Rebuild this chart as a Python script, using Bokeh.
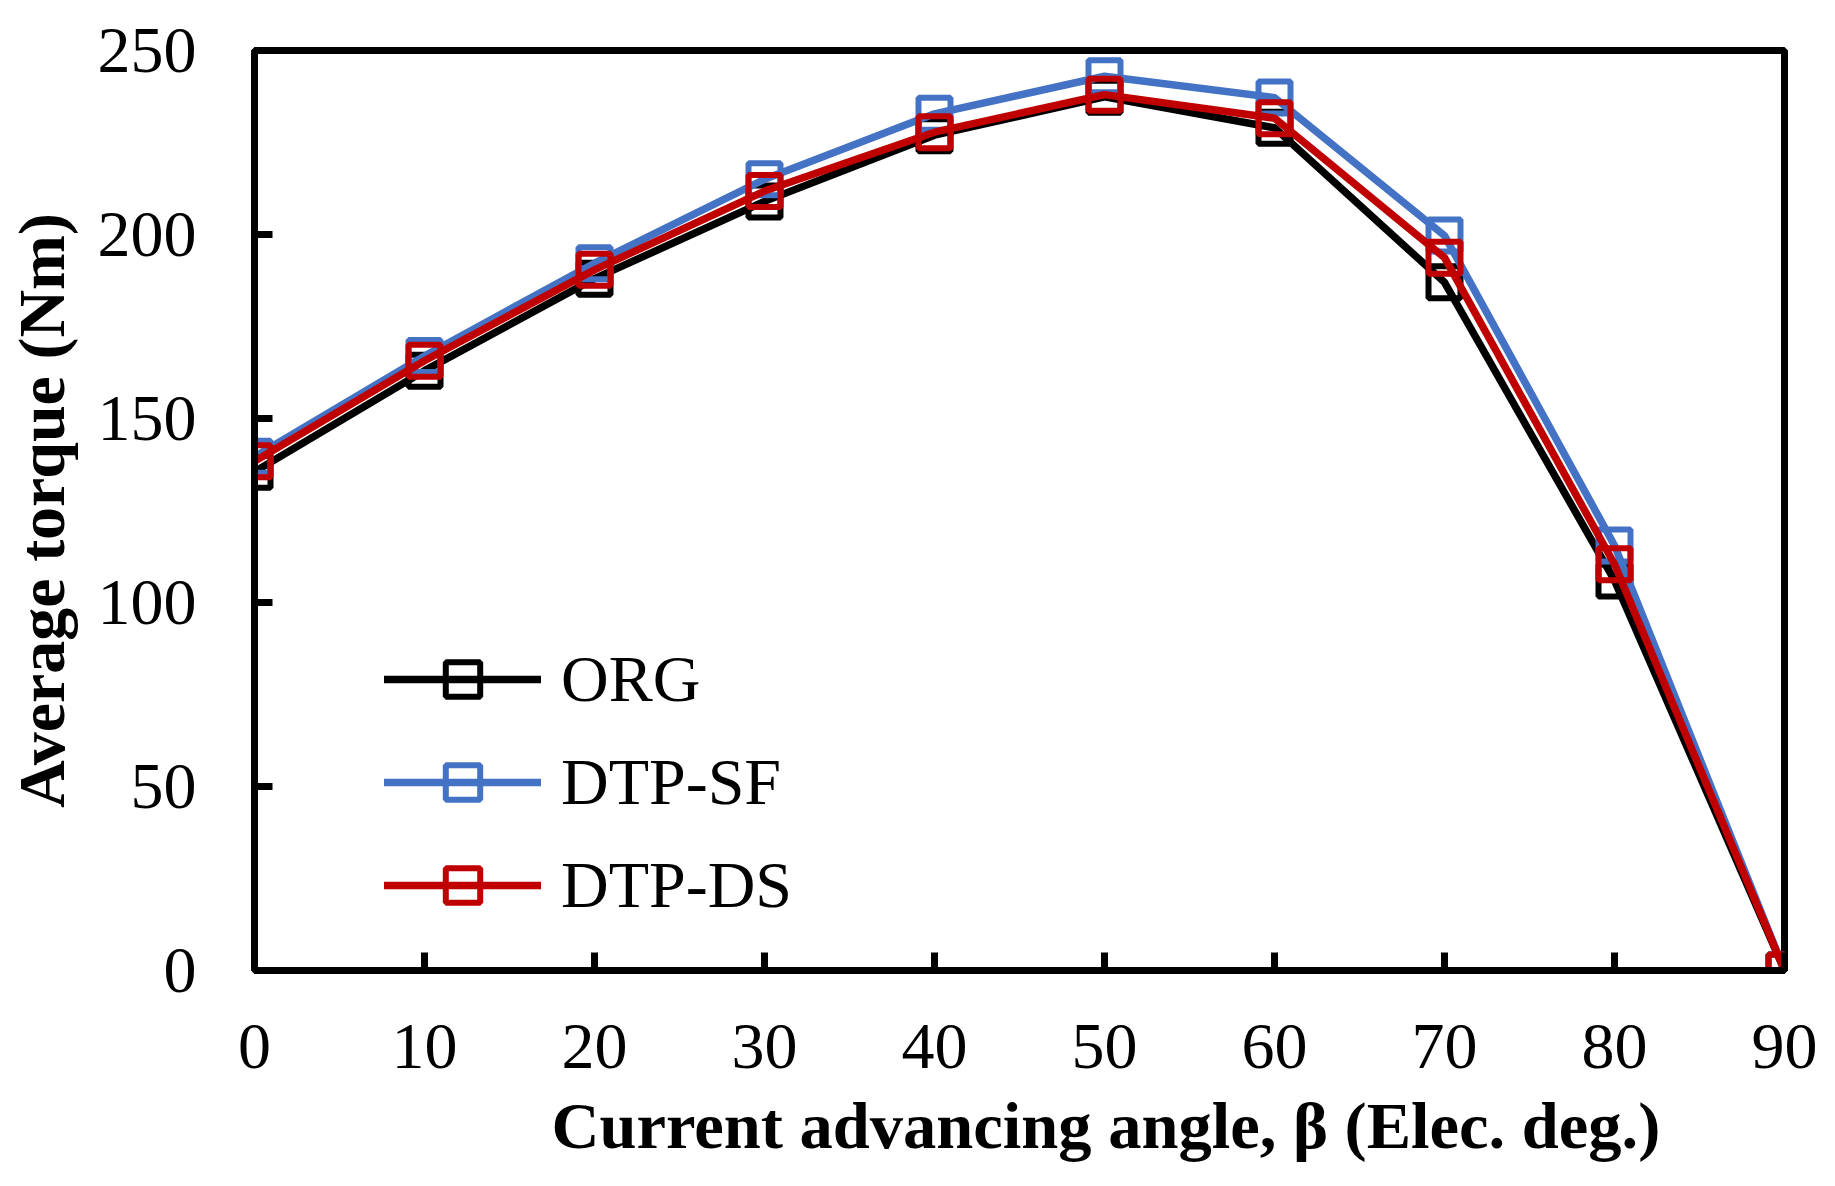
from bokeh.plotting import figure
from bokeh.models import Range1d, FixedTicker, Legend, LegendItem, Title
from bokeh.embed import file_html
from bokeh.resources import INLINE

# ---------------- data ----------------
angles = [0, 10, 20, 30, 40, 50, 60, 70, 80, 90]
org = [135.5, 163.0, 188.0, 209.0, 227.0, 237.4, 229.0, 187.0, 106.0, 0.0]
dtp_sf = [139.6, 167.0, 192.2, 215.0, 232.8, 243.0, 237.2, 199.7, 115.5, 0.0]
dtp_ds = [138.4, 165.7, 190.4, 211.8, 227.8, 238.0, 231.6, 193.7, 110.4, 0.0]
series_names = ["ORG", "DTP-SF", "DTP-DS"]
series_colors = ["#000000", "#4472C4", "#C00000"]
x_ticks = [0, 10, 20, 30, 40, 50, 60, 70, 80, 90]
y_ticks = [0, 50, 100, 150, 200, 250]
x_title = "Current advancing angle, \u03b2 (Elec. deg.)"
y_title = "Average torque (Nm)"

# ---------------- layout ----------------
W, H = 1835, 1186
MB_L, MB_R, MB_T, MB_B = 254, 51, 50, 216
X0, X1 = 0, 90
Y0, Y1 = 0, 250

SERIF = "Liberation Serif"
MSIZE = 32
MLW = 6
LW = 7.5

p = figure(width=W, height=H, output_backend="svg", toolbar_location=None,
           x_range=Range1d(X0, X1), y_range=Range1d(Y0, Y1),
           min_border_left=MB_L, min_border_right=MB_R,
           min_border_top=MB_T, min_border_bottom=MB_B)
p.background_fill_color = "white"
p.border_fill_color = "white"
p.xgrid.visible = False
p.ygrid.visible = False
p.outline_line_color = "black"
p.outline_line_width = 7
p.outline_line_alpha = 1.0

for ax in (p.xaxis, p.yaxis):
    ax.axis_line_width = 7
    ax.axis_line_color = "black"
    ax.major_tick_line_width = 7
    ax.major_tick_line_color = "black"
    ax.major_tick_in = 18
    ax.major_tick_out = 0
    ax.minor_tick_line_color = None
    ax.major_label_text_font = SERIF
    ax.major_label_text_font_size = "66px"
    ax.major_label_text_color = "black"
p.xaxis.ticker = FixedTicker(ticks=x_ticks)
p.yaxis.ticker = FixedTicker(ticks=y_ticks)
p.xaxis.major_label_standoff = 54
p.yaxis.major_label_standoff = 58

p.yaxis.axis_label = y_title
p.yaxis.axis_label_text_font = SERIF
p.yaxis.axis_label_text_font_size = "66px"
p.yaxis.axis_label_text_font_style = "bold"
p.yaxis.axis_label_text_color = "black"
p.yaxis.axis_label_standoff = 17

items = []
for name, color, vals in zip(series_names, series_colors, [org, dtp_sf, dtp_ds]):
    lr = p.line(angles, vals, line_color=color, line_width=LW,
                line_join="round", line_cap="round")
    sr = p.scatter(angles, vals, marker="square", size=MSIZE,
                   fill_color=None, line_color=color, line_width=MLW)
    items.append(LegendItem(label=name, renderers=[lr, sr]))

legend = Legend(items=items, location=(130, 42), orientation="vertical",
                glyph_width=157, glyph_height=86, label_height=86,
                spacing=17, label_standoff=20, padding=0, margin=0,
                border_line_color=None, background_fill_alpha=0,
                label_text_font=SERIF, label_text_font_size="66px",
                label_text_color="black")
p.add_layout(legend)

xt = Title(text=x_title, align="left", offset=297, standoff=32,
           text_font=SERIF, text_font_size="66.5px", text_font_style="bold",
           text_color="black")
p.add_layout(xt, "below")

open("out.html", "w").write(file_html(p, INLINE))
